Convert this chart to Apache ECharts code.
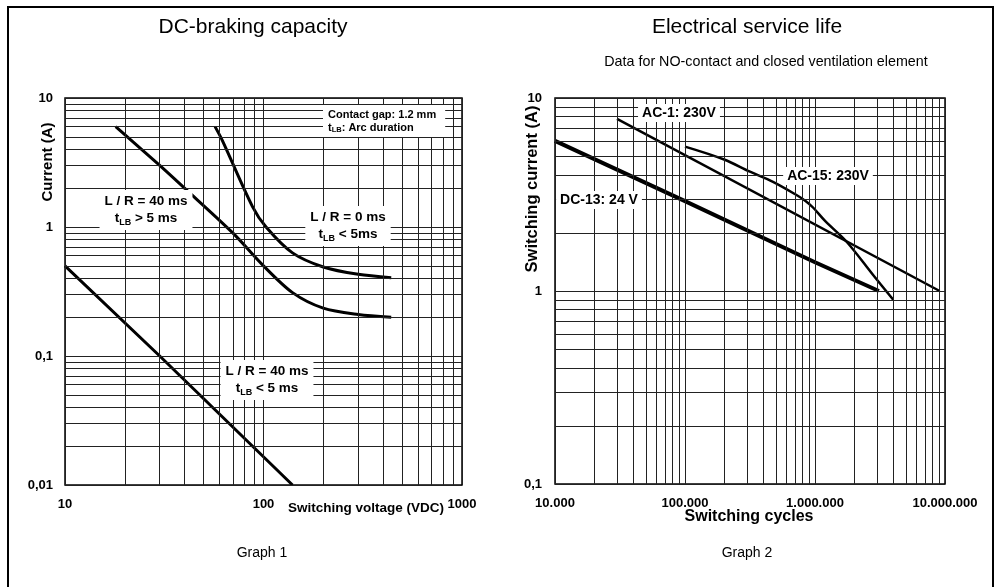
<!DOCTYPE html>
<html>
<head>
<meta charset="utf-8">
<script src="https://cdn.jsdelivr.net/npm/echarts@6/dist/echarts.min.js"></script>
<style>
html,body{margin:0;padding:0;background:#fff;}
#c{width:1003px;height:587px;}
</style>
</head>
<body>
<div id="c"></div>
<script>
// ---------- DATA ----------
// Graph 1: DC-braking capacity (x: switching voltage VDC, y: current A)
const g1_lr40slow_V = [18, 30, 40, 70, 100, 140, 200, 300, 440];
const g1_lr40slow_I = [6.0, 3.0, 2.0, 0.9, 0.5, 0.31, 0.235, 0.21, 0.2];
const g1_lr0_V = [57, 62, 88, 103, 140, 200, 300, 440];
const g1_lr0_I = [6.0, 4.7, 1.44, 1.0, 0.63, 0.49, 0.43, 0.405];
const g1_lr40fast_V = [10, 30, 140];
const g1_lr40fast_I = [0.5, 0.1, 0.01];
const g1_xTicks = [10, 100, 1000];
const g1_yTicks = [0.01, 0.1, 1, 10];

// Graph 2: Electrical service life (x: switching cycles, y: switching current A)
const g2_dc13_N = [10000, 100000, 1000000, 3100000];
const g2_dc13_I = [6.0, 2.92, 1.41, 1.0];
const g2_ac1_N = [30000, 9100000];
const g2_ac1_I = [7.8, 1.0];
const g2_ac15_N = [100000, 200000, 316000, 475000, 700000, 850000, 970000, 1200000, 1750000, 2800000, 4000000];
const g2_ac15_I = [5.6, 4.8, 4.15, 3.68, 3.18, 2.92, 2.7, 2.3, 1.8, 1.21, 0.9];
const g2_xTicks = [10000, 100000, 1000000, 10000000];
const g2_yTicks = [0.1, 1, 10];

// ---------- helpers ----------
const zip = (a, b) => a.map((v, i) => [v, b[i]]);
function logGrid(decades, top) {
  const out = [];
  decades.forEach(d => { for (let m = 1; m <= 9; m++) out.push(+(m * d).toPrecision(6)); });
  out.push(top);
  return out;
}
const g1_vLines = logGrid([10, 100], 1000);
const g1_hLines = logGrid([0.01, 0.1, 1], 10);
const g2_vLines = logGrid([10000, 100000, 1000000], 10000000);
const g2_hLines = logGrid([0.1, 1], 10);

const FONT = "'Liberation Sans', Arial, sans-serif";
const GRIDC = '#222';

function gridSeries(idx, vLines, hLines) {
  return {
    type: 'line', xAxisIndex: idx, yAxisIndex: idx, data: [], z: 1, silent: true,
    markLine: {
      silent: true, symbol: 'none', animation: false,
      label: { show: false },
      lineStyle: { color: GRIDC, width: 1, type: 'solid' },
      emphasis: { disabled: true },
      data: vLines.map(v => ({ xAxis: v })).concat(hLines.map(v => ({ yAxis: v })))
    }
  };
}
function curve(idx, x, y, w, smooth) {
  return {
    type: 'line', xAxisIndex: idx, yAxisIndex: idx, data: zip(x, y), z: 3,
    symbol: 'none', smooth: smooth || false, silent: true, animation: false,
    lineStyle: { color: '#000', width: w, cap: 'butt', join: 'round' }
  };
}
const commaFmt = v => String(+(+v).toPrecision(6)).replace('.', ',');
const dotThousands = v => String(Math.round(v)).replace(/\B(?=(\d{3})+(?!\d))/g, '.');

const tickLabel = { fontFamily: FONT, fontWeight: 'bold', fontSize: 13, color: '#000' };

function lbl(x, y, text, rich, extra) {
  return {
    type: 'text', x: x, y: y, z: 100,
    style: Object.assign({
      text: text, rich: rich, align: 'center', verticalAlign: 'middle',
      fontFamily: FONT, fill: '#000', backgroundColor: '#fff', padding: [3, 5]
    }, extra || {})
  };
}
const richBig = {
  b: { fontFamily: FONT, fontWeight: 'bold', fontSize: 13.5, lineHeight: 17, fill: '#000' },
  s: { fontFamily: FONT, fontWeight: 'bold', fontSize: 9, verticalAlign: 'bottom', fill: '#000' }
};
const richSmall = {
  b: { fontFamily: FONT, fontWeight: 'bold', fontSize: 11, lineHeight: 13, fill: '#000' },
  s: { fontFamily: FONT, fontWeight: 'bold', fontSize: 7.5, verticalAlign: 'bottom', fill: '#000' }
};
const richLab = { b: { fontFamily: FONT, fontWeight: 'bold', fontSize: 14, fill: '#000' } };

const chart = echarts.init(document.getElementById('c'), null, { renderer: 'canvas' });
chart.setOption({
  animation: false,
  backgroundColor: '#fff',
  grid: [
    { left: 65, top: 98, width: 397, height: 387, show: true, borderColor: '#000', borderWidth: 1.5, backgroundColor: 'transparent', z: 2 },
    { left: 555, top: 98, width: 390, height: 386, show: true, borderColor: '#000', borderWidth: 1.5, backgroundColor: 'transparent', z: 2 }
  ],
  xAxis: [
    { type: 'log', logBase: 10, gridIndex: 0, min: 10, max: 1000,
      axisLine: { show: false }, axisTick: { show: false }, splitLine: { show: false },
      axisLabel: Object.assign({ margin: 13, formatter: v => String(+(+v).toPrecision(6)) }, tickLabel) },
    { type: 'log', logBase: 10, gridIndex: 1, min: 10000, max: 10000000,
      axisLine: { show: false }, axisTick: { show: false }, splitLine: { show: false },
      axisLabel: Object.assign({ margin: 13, formatter: dotThousands }, tickLabel) }
  ],
  yAxis: [
    { type: 'log', logBase: 10, gridIndex: 0, min: 0.01, max: 10,
      axisLine: { show: false }, axisTick: { show: false }, splitLine: { show: false },
      axisLabel: Object.assign({ margin: 12, formatter: commaFmt }, tickLabel) },
    { type: 'log', logBase: 10, gridIndex: 1, min: 0.1, max: 10,
      axisLine: { show: false }, axisTick: { show: false }, splitLine: { show: false },
      axisLabel: Object.assign({ margin: 13, formatter: commaFmt }, tickLabel) }
  ],
  series: [
    gridSeries(0, g1_vLines, g1_hLines),
    gridSeries(1, g2_vLines, g2_hLines),
    curve(0, g1_lr40slow_V, g1_lr40slow_I, 3, 0.3),
    curve(0, g1_lr0_V, g1_lr0_I, 3, 0.3),
    curve(0, g1_lr40fast_V, g1_lr40fast_I, 3),
    curve(1, g2_dc13_N, g2_dc13_I, 4),
    curve(1, g2_ac1_N, g2_ac1_I, 2.5),
    curve(1, g2_ac15_N, g2_ac15_I, 2.5, 0.35)
  ],
  graphic: [
    { type: 'rect', z: 200, silent: true, shape: { x: 8, y: 7, width: 985, height: 600 },
      style: { fill: 'none', stroke: '#000', lineWidth: 2 } },
    { type: 'text', x: 253, y: 27, z: 100, style: { text: 'DC-braking capacity', fontFamily: FONT, fontSize: 21, fill: '#000', align: 'center', verticalAlign: 'middle' } },
    { type: 'text', x: 747, y: 27, z: 100, style: { text: 'Electrical service life', fontFamily: FONT, fontSize: 21, fill: '#000', align: 'center', verticalAlign: 'middle' } },
    { type: 'text', x: 766, y: 62, z: 100, style: { text: 'Data for NO-contact and closed ventilation element', fontFamily: FONT, fontSize: 14.3, fill: '#000', align: 'center', verticalAlign: 'middle' } },
    { type: 'text', x: 48, y: 162, rotation: Math.PI / 2, z: 100, style: { text: 'Current (A)', fontFamily: FONT, fontSize: 15, fontWeight: 'bold', fill: '#000', align: 'center', verticalAlign: 'middle' } },
    { type: 'text', x: 532, y: 189, rotation: Math.PI / 2, z: 100, style: { text: 'Switching current (A)', fontFamily: FONT, fontSize: 16.5, fontWeight: 'bold', fill: '#000', align: 'center', verticalAlign: 'middle' } },
    { type: 'text', x: 366, y: 508, z: 100, style: { text: 'Switching voltage (VDC)', fontFamily: FONT, fontSize: 13.5, fontWeight: 'bold', fill: '#000', align: 'center', verticalAlign: 'middle' } },
    { type: 'text', x: 749, y: 517, z: 100, style: { text: 'Switching cycles', fontFamily: FONT, fontSize: 16, fontWeight: 'bold', fill: '#000', align: 'center', verticalAlign: 'middle' } },
    { type: 'text', x: 262, y: 553, z: 100, style: { text: 'Graph 1', fontFamily: FONT, fontSize: 14, fill: '#000', align: 'center', verticalAlign: 'middle' } },
    { type: 'text', x: 747, y: 553, z: 100, style: { text: 'Graph 2', fontFamily: FONT, fontSize: 14, fill: '#000', align: 'center', verticalAlign: 'middle' } },
    lbl(146, 210, '{b|L / R = 40 ms}\n{b|t}{s|LB}{b| > 5 ms}', richBig),
    lbl(348, 226, '{b|L / R = 0 ms}\n{b|t}{s|LB}{b| < 5ms}', richBig),
    lbl(267, 380, '{b|L / R = 40 ms}\n{b|t}{s|LB}{b| < 5 ms}', richBig),
    lbl(323, 121, '{b|Contact gap: 1.2 mm}\n{b|t}{s|LB}{b|: Arc duration}', richSmall, { align: 'left', padding: [3, 9, 3, 5] }),
    lbl(679, 113, '{b|AC-1: 230V}', richLab, { padding: [2, 4] }),
    lbl(828, 176, '{b|AC-15: 230V}', richLab, { padding: [2, 4] }),
    lbl(599, 200, '{b|DC-13: 24 V}', richLab, { padding: [2, 4] })
  ]
});
</script>
</body>
</html>
